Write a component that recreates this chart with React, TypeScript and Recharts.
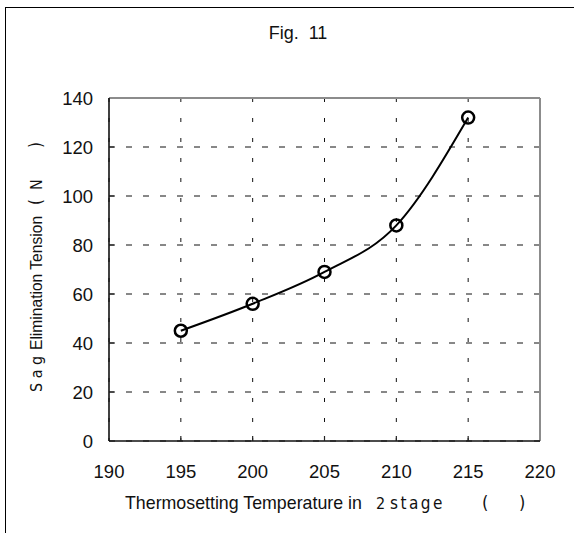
import React from "react";
import {
  CartesianGrid,
  Line,
  LineChart,
  ReferenceLine,
  XAxis,
  YAxis,
} from "recharts";

// values
const temperatures = [195, 200, 205, 210, 215];
const tensions = [45, 56, 69, 88, 132];
const xTicks = [190, 195, 200, 205, 210, 215, 220];
const yTicks = [0, 20, 40, 60, 80, 100, 120, 140];

const data = temperatures.map((temp, i) => ({ temp, tension: tensions[i] }));

const FONT = '"Liberation Sans", Arial, sans-serif';
const NARROW = '"DejaVu Sans Condensed", "Liberation Sans Narrow", sans-serif';
const X_MARGIN = 37;
const Y_MARGIN = 16;

function XTick(props: any) {
  const { x, y, payload } = props;
  const axisY = y - X_MARGIN;
  const inner = payload.value !== xTicks[0] && payload.value !== xTicks[xTicks.length - 1];
  return (
    <g>
      {inner && <line x1={x} x2={x} y1={axisY} y2={axisY - 5} stroke="#222" strokeWidth={1.2} />}
      <text x={x} y={y} textAnchor="middle" fontSize={18.5} fontFamily={FONT} fill="#111">
        {payload.value}
      </text>
    </g>
  );
}

function YTick(props: any) {
  const { x, y, payload } = props;
  const axisX = x + Y_MARGIN;
  const inner = payload.value !== yTicks[0] && payload.value !== yTicks[yTicks.length - 1];
  return (
    <g>
      {inner && <line x1={axisX} x2={axisX + 5} y1={y} y2={y} stroke="#222" strokeWidth={1.2} />}
      <text x={x} y={y + 6.5} textAnchor="end" fontSize={18.5} fontFamily={FONT} fill="#111">
        {payload.value}
      </text>
    </g>
  );
}

function XTitle() {
  return (
    <text x={125} y={509} fontSize={17.8} fontFamily={FONT} fill="#111">
      Thermosetting Temperature in
      <tspan x={376} fontFamily={NARROW} fontSize={16}>2</tspan>
      <tspan x={390} fontFamily={NARROW} fontSize={17} letterSpacing={2.5}>stage</tspan>
      <tspan x={482} fontFamily={NARROW} fontSize={18}>(</tspan>
      <tspan x={519} fontFamily={NARROW} fontSize={18}>)</tspan>
    </text>
  );
}

function YTitle() {
  return (
    <text
      x={0}
      y={0}
      transform="translate(42 392) rotate(-90)"
      fontSize={15.6}
      fontFamily={FONT}
      fill="#111"
    >
      <tspan x={0} fontFamily={NARROW} fontSize={16} letterSpacing={4.5}>Sag</tspan>
      <tspan x={42}>Elimination Tension</tspan>
      <tspan x={187} fontFamily={NARROW} fontSize={17}>(</tspan>
      <tspan x={202} fontFamily={NARROW} fontSize={16}>N</tspan>
      <tspan x={244} fontFamily={NARROW} fontSize={17}>)</tspan>
    </text>
  );
}

export default function App() {
  return (
    <div
      style={{
        position: "absolute",
        left: 0,
        top: 0,
        width: 574,
        height: 533,
        background: "#fff",
      }}
    >
      <div
        style={{
          position: "absolute",
          left: 5,
          top: 7,
          right: 0,
          bottom: 0,
          borderLeft: "1.5px solid #000",
          borderTop: "1.5px solid #000",
        }}
      />
      <div
        style={{
          position: "absolute",
          top: 23,
          left: 0,
          width: 596,
          textAlign: "center",
          fontFamily: FONT,
          fontSize: 18,
          color: "#111",
          whiteSpace: "pre",
        }}
      >
        {"Fig.  11"}
      </div>
      <LineChart
        width={574}
        height={533}
        data={data}
        margin={{ top: 98, right: 34, bottom: 62, left: 0 }}
        style={{ position: "absolute", left: 0, top: 0 }}
      >
        <CartesianGrid stroke="#111" strokeDasharray="6 11" vertical={false} />
        <CartesianGrid stroke="#111" strokeDasharray="4 16" horizontal={false} />
        <XAxis
          dataKey="temp"
          type="number"
          domain={[190, 220]}
          ticks={xTicks}
          interval={0}
          height={30}
          tickSize={0}
          tickMargin={X_MARGIN}
          tick={<XTick />}
          axisLine={{ stroke: "#111", strokeWidth: 1.6 }}
          label={{ content: <XTitle /> }}
        />
        <YAxis
          type="number"
          domain={[0, 140]}
          ticks={yTicks}
          interval={0}
          width={109}
          tickSize={0}
          tickMargin={Y_MARGIN}
          tick={<YTick />}
          axisLine={{ stroke: "#111", strokeWidth: 1.6 }}
          label={{ content: <YTitle /> }}
        />
        <ReferenceLine y={140} stroke="#8c8c8c" strokeWidth={2} />
        <ReferenceLine x={220} stroke="#8c8c8c" strokeWidth={2} />
        <Line
          type="monotone"
          dataKey="tension"
          stroke="#000"
          strokeWidth={2}
          dot={{ r: 6, stroke: "#000", strokeWidth: 2.5, fill: "none" }}
          isAnimationActive={false}
        />
      </LineChart>
    </div>
  );
}
